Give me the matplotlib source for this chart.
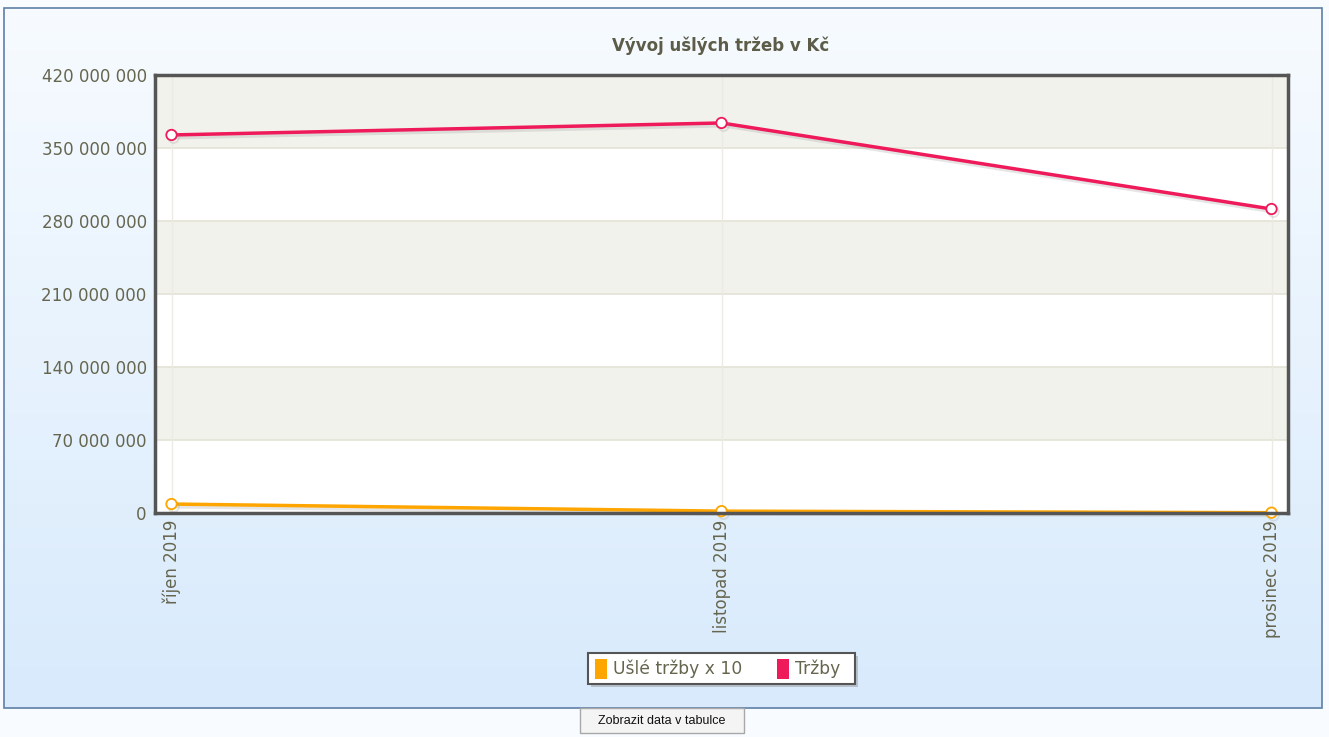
import matplotlib
matplotlib.use("Agg")
import matplotlib.pyplot as plt
import matplotlib.patheffects as pe
from matplotlib.patches import Rectangle
from matplotlib.ticker import FuncFormatter
import numpy as np

months = ["říjen 2019", "listopad 2019", "prosinec 2019"]
usle_trzby_x10 = [8_600_000, 1_800_000, 300_000]
trzby = [362_500_000, 374_000_000, 291_500_000]
y_ticks = [0, 70_000_000, 140_000_000, 210_000_000, 280_000_000, 350_000_000, 420_000_000]

ORANGE = "#ffa500"
PINK = "#ee1a5a"
TEXT = "#66664f"

plt.rcParams["font.family"] = ["DejaVu Sans"]

W, H = 1329, 737
fig = plt.figure(figsize=(W / 100, H / 100), dpi=100)
fig.patch.set_facecolor("#f8fbff")

# background gradient panel
bg = fig.add_axes([0, 0, 1, 1], zorder=-10)
bg.set_xlim(0, W)
bg.set_ylim(H, 0)
bg.axis("off")
grad = np.linspace(0, 1, 256).reshape(-1, 1)
bg.imshow(grad, extent=[4, 1322, 708, 8], aspect="auto",
          cmap=matplotlib.colors.LinearSegmentedColormap.from_list("g", ["#f7fbff", "#d8eafc"]))
bg.add_patch(Rectangle((4, 8), 1318, 700, fill=False, edgecolor="#5f80a6", lw=1.2))
# button
bg.add_patch(Rectangle((580, 708), 164, 25, facecolor="#f4f4f4", edgecolor="#a8a8a8", lw=1))
bg.text(662, 721, "Zobrazit data v tabulce", ha="center", va="center",
        fontsize=9, family="Liberation Sans", color="#111111")

ax = fig.add_axes([155 / W, 1 - 513 / H, 1133 / W, 438 / H])
ax.set_facecolor("white")
ax.set_xlim(-0.03, 2.03)
ax.set_ylim(0, 420_000_000)

# alternating bands
for i in range(len(y_ticks) - 1):
    if i % 2 == 1:
        ax.axhspan(y_ticks[i], y_ticks[i + 1], facecolor="#f2f2ec", zorder=0)
for t in y_ticks[1:-1]:
    ax.axhline(t, color="#e3e3d6", lw=1.2, zorder=1)
x = np.arange(len(months))
for xi in x:
    ax.axvline(xi, color="#ebebe3", lw=1, zorder=1)

shadow = [pe.SimpleLineShadow(offset=(1.5, -2), shadow_color="#999999", alpha=0.25), pe.Normal()]
ax.plot(x, usle_trzby_x10, color=ORANGE, lw=2.5, zorder=3, path_effects=shadow,
        marker="o", ms=7.5, mfc="white", mec=ORANGE, mew=1.3, clip_on=False)
ax.plot(x, trzby, color=PINK, lw=2.5, zorder=3, path_effects=shadow,
        marker="o", ms=7.5, mfc="white", mec=PINK, mew=1.3, clip_on=False)

ax.set_yticks(y_ticks)
ax.yaxis.set_major_formatter(FuncFormatter(lambda v, p: f"{int(v):,}".replace(",", " ")))
ax.set_xticks(x)
ax.set_xticklabels(months, rotation=90, va="top", ha="center")
ax.tick_params(axis="both", length=0, labelsize=12, labelcolor=TEXT)
ax.tick_params(axis="y", pad=6)
ax.tick_params(axis="x", pad=5)
for s in ax.spines.values():
    s.set_color("#555555")
    s.set_linewidth(2.5)
    s.set_zorder(5)

fig.text(721 / W, 1 - 46 / H, "Vývoj ušlých tržeb v Kč", ha="center", va="center",
         fontsize=12, fontweight="bold", color="#5c5c48")

# legend
bg.add_patch(Rectangle((591, 656), 267, 31, facecolor="#999999", alpha=0.5, lw=0))
bg.add_patch(Rectangle((588, 653), 267, 31, facecolor="white", edgecolor="#555555", lw=1.5))
bg.add_patch(Rectangle((595, 659), 12, 20, facecolor=ORANGE, lw=0))
bg.text(613, 669, "Ušlé tržby x 10", ha="left", va="center", fontsize=12.3, color=TEXT)
bg.add_patch(Rectangle((777, 659), 12, 20, facecolor=PINK, lw=0))
bg.text(795, 669, "Tržby", ha="left", va="center", fontsize=12.3, color=TEXT)

fig.savefig("out.png", dpi=100)
